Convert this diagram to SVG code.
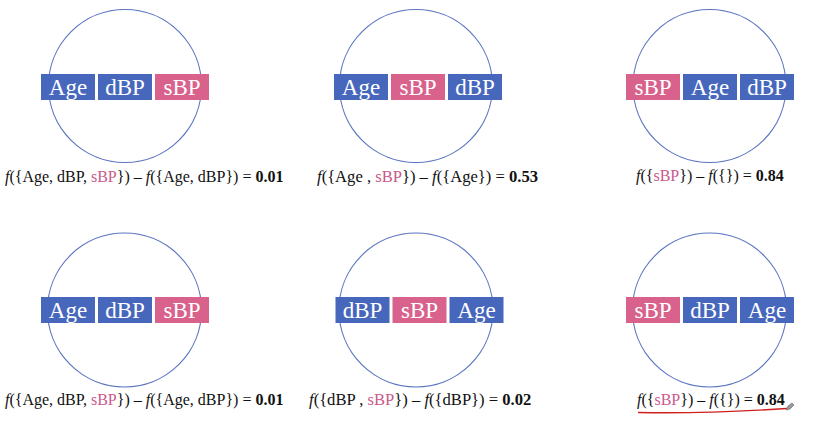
<svg xmlns="http://www.w3.org/2000/svg" width="831" height="421" viewBox="0 0 831 421">
<style>
.ring{fill:none;stroke:#5a74c0;stroke-width:1.2}
.b{fill:#4767bd}
.p{fill:#d8628c}
.lbl{font-family:"Liberation Serif",serif;font-size:23px;fill:#fff;text-anchor:middle}
.f{font-family:"Liberation Serif",serif;font-size:16px;fill:#111}
.fm{font-size:16.6px}
.pk{fill:#c95a8c}
.bd{font-weight:bold}
</style>
<rect width="831" height="421" fill="#fff"/>
<g id="panel-1">
<circle class="ring" cx="125" cy="86" r="76.5"/>
<rect class="b" x="41" y="74" width="54" height="26"/><text class="lbl" x="68" y="95">Age</text>
<rect class="b" x="98" y="74" width="54" height="26"/><text class="lbl" x="125" y="95">dBP</text>
<rect class="p" x="155" y="74" width="54" height="26"/><text class="lbl" x="182" y="95">sBP</text>
<text class="f" x="5" y="182"><tspan font-style="italic">f</tspan>({Age, dBP, <tspan class="pk">sBP</tspan>}) – <tspan font-style="italic">f</tspan>({Age, dBP}) = <tspan class="bd">0.01</tspan></text>
</g>
<g id="panel-2">
<circle class="ring" cx="416" cy="86" r="76.5"/>
<rect class="b" x="334" y="74" width="54" height="26"/><text class="lbl" x="361" y="95">Age</text>
<rect class="p" x="391" y="74" width="54" height="26"/><text class="lbl" x="418" y="95">sBP</text>
<rect class="b" x="448" y="74" width="54" height="26"/><text class="lbl" x="475" y="95">dBP</text>
<text class="f fm" x="317" y="182"><tspan font-style="italic">f</tspan>({Age , <tspan class="pk">sBP</tspan>}) – <tspan font-style="italic">f</tspan>({Age}) = <tspan class="bd">0.53</tspan></text>
</g>
<g id="panel-3">
<circle class="ring" cx="709.5" cy="86" r="76.5"/>
<rect class="p" x="626" y="74" width="54" height="26"/><text class="lbl" x="653" y="95">sBP</text>
<rect class="b" x="683" y="74" width="54" height="26"/><text class="lbl" x="710" y="95">Age</text>
<rect class="b" x="740" y="74" width="54" height="26"/><text class="lbl" x="767" y="95">dBP</text>
<text class="f" x="636" y="181"><tspan font-style="italic">f</tspan>({<tspan class="pk">sBP</tspan>}) – <tspan font-style="italic">f</tspan>({}) = <tspan class="bd">0.84</tspan></text>
</g>
<g id="panel-4">
<circle class="ring" cx="124.5" cy="310" r="77"/>
<rect class="b" x="41" y="297" width="54" height="26"/><text class="lbl" x="68" y="318">Age</text>
<rect class="b" x="98" y="297" width="54" height="26"/><text class="lbl" x="125" y="318">dBP</text>
<rect class="p" x="155" y="297" width="54" height="26"/><text class="lbl" x="182" y="318">sBP</text>
<text class="f" x="5" y="405"><tspan font-style="italic">f</tspan>({Age, dBP, <tspan class="pk">sBP</tspan>}) – <tspan font-style="italic">f</tspan>({Age, dBP}) = <tspan class="bd">0.01</tspan></text>
</g>
<g id="panel-5">
<circle class="ring" cx="416" cy="310" r="77"/>
<rect class="b" x="335.5" y="297" width="54" height="26"/><text class="lbl" x="362.5" y="318">dBP</text>
<rect class="p" x="392.5" y="297" width="54" height="26"/><text class="lbl" x="419.5" y="318">sBP</text>
<rect class="b" x="449.5" y="297" width="54" height="26"/><text class="lbl" x="476.5" y="318">Age</text>
<text class="f fm" x="309" y="405"><tspan font-style="italic">f</tspan>({dBP , <tspan class="pk">sBP</tspan>}) – <tspan font-style="italic">f</tspan>({dBP}) = <tspan class="bd">0.02</tspan></text>
</g>
<g id="panel-6">
<circle class="ring" cx="709.5" cy="310" r="77"/>
<rect class="p" x="626" y="297" width="54" height="26"/><text class="lbl" x="653" y="318">sBP</text>
<rect class="b" x="683" y="297" width="54" height="26"/><text class="lbl" x="710" y="318">dBP</text>
<rect class="b" x="740" y="297" width="54" height="26"/><text class="lbl" x="767" y="318">Age</text>
<text class="f" x="637" y="405"><tspan font-style="italic">f</tspan>({<tspan class="pk">sBP</tspan>}) – <tspan font-style="italic">f</tspan>({}) = <tspan class="bd">0.84</tspan></text>
</g>
<g id="annotation">
<path d="M638,412.5 Q700,414 787,408.5" fill="none" stroke="#d02020" stroke-width="1.4"/>
<polygon points="786,410 788,406 792,403 794,405 790,409" fill="#999" stroke="#666" stroke-width="0.6"/>
</g>
</svg>
